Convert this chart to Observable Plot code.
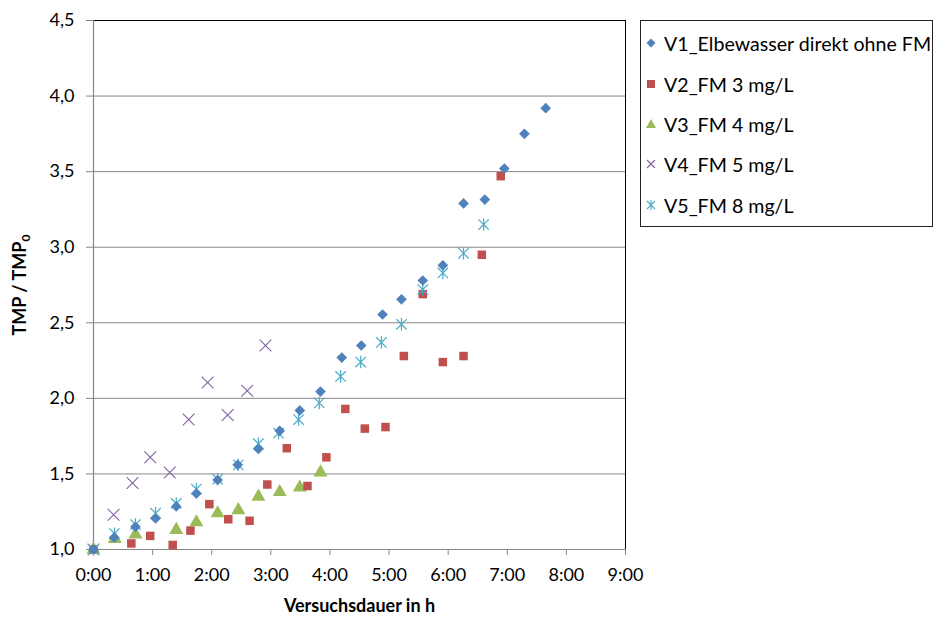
<!DOCTYPE html>
<html>
<head>
<meta charset="utf-8">
<script src="https://cdn.jsdelivr.net/npm/d3@7"></script>
<script src="https://cdn.jsdelivr.net/npm/@observablehq/plot@0.6"></script>
<style>
  body { margin: 0; background: #fff; font-family: Lato, "Open Sans", sans-serif; }
  #wrap { position: relative; width: 935px; height: 617px; }
  #legend { position: absolute; left: 640px; top: 20px; width: 293px; height: 207px; border: 1px solid #222; box-sizing: border-box; background: #fff; }
  .item { position: absolute; left: 0; height: 20px; display: flex; align-items: center; font-size: 19.6px; color: #000; white-space: nowrap; }
  .item svg { margin-left: 4px; margin-right: 7px; }
</style>
</head>
<body>
<div id="wrap"><div id="chart"></div><div id="legend"></div></div>
<script>
// ---- data (time in hours, TMP/TMP0) ----
const seriesNames = ["V1_Elbewasser direkt ohne FM", "V2_FM 3 mg/L", "V3_FM 4 mg/L", "V4_FM 5 mg/L", "V5_FM 8 mg/L"];
const seriesColors = ["#4F81BD", "#C0504D", "#9BBB59", "#8064A2", "#4BACC6"];

const v1_t = [0, 0.35, 0.71, 1.05, 1.40, 1.74, 2.10, 2.44, 2.79, 3.15, 3.49, 3.84, 4.20, 4.53, 4.89, 5.21, 5.57, 5.91, 6.26, 6.62, 6.95, 7.29, 7.65];
const v1_y = [1.0, 1.08, 1.15, 1.205, 1.285, 1.37, 1.46, 1.56, 1.665, 1.785, 1.92, 2.045, 2.27, 2.35, 2.555, 2.655, 2.78, 2.88, 3.29, 3.315, 3.52, 3.75, 3.92];

const v2_t = [0, 0.64, 0.96, 1.34, 1.64, 1.96, 2.28, 2.64, 2.94, 3.27, 3.62, 3.94, 4.26, 4.59, 4.94, 5.25, 5.57, 5.91, 6.26, 6.57, 6.89];
const v2_y = [1.0, 1.04, 1.09, 1.03, 1.125, 1.30, 1.20, 1.19, 1.43, 1.67, 1.42, 1.61, 1.93, 1.80, 1.81, 2.28, 2.69, 2.24, 2.28, 2.95, 3.47];

const v3_t = [0, 0.36, 0.71, 1.40, 1.74, 2.10, 2.45, 2.79, 3.15, 3.49, 3.84];
const v3_y = [1.0, 1.07, 1.10, 1.13, 1.18, 1.24, 1.26, 1.35, 1.38, 1.41, 1.51];

const v4_t = [0, 0.34, 0.66, 0.96, 1.29, 1.61, 1.93, 2.27, 2.60, 2.91];
const v4_y = [1.0, 1.23, 1.44, 1.61, 1.51, 1.86, 2.105, 1.89, 2.05, 2.35];

const v5_t = [0, 0.355, 0.71, 1.05, 1.40, 1.74, 2.10, 2.45, 2.79, 3.13, 3.47, 3.82, 4.18, 4.52, 4.87, 5.21, 5.57, 5.91, 6.26, 6.60];
const v5_y = [1.0, 1.105, 1.165, 1.24, 1.305, 1.40, 1.465, 1.56, 1.70, 1.77, 1.86, 1.97, 2.145, 2.24, 2.37, 2.49, 2.72, 2.83, 2.96, 3.15];

const xTicks = [0, 1, 2, 3, 4, 5, 6, 7, 8, 9];
const xTickLabels = ["0:00", "1:00", "2:00", "3:00", "4:00", "5:00", "6:00", "7:00", "8:00", "9:00"];
const yTicks = [1.0, 1.5, 2.0, 2.5, 3.0, 3.5, 4.0, 4.5];
const yTickLabels = ["1,0", "1,5", "2,0", "2,5", "3,0", "3,5", "4,0", "4,5"];

// ---- build table ----
const toRows = (t, y, s) => t.map((ti, i) => ({t: ti, v: y[i], s}));
const d1 = toRows(v1_t, v1_y, seriesNames[0]);
const d2 = toRows(v2_t, v2_y, seriesNames[1]);
const d3_ = toRows(v3_t, v3_y, seriesNames[2]);
const d4 = toRows(v4_t, v4_y, seriesNames[3]);
const d5 = toRows(v5_t, v5_y, seriesNames[4]);

// Excel-like star marker: X with vertical bar
const starSymbol = {
  draw(ctx, size) {
    const r = Math.sqrt(size / Math.PI);
    ctx.moveTo(-r, -r); ctx.lineTo(r, r);
    ctx.moveTo(-r, r); ctx.lineTo(r, -r);
    ctx.moveTo(0, -r * 1.2); ctx.lineTo(0, r * 1.2);
  }
};

const fontFam = "Lato, 'Open Sans', sans-serif";
const xFmt = (d) => xTickLabels[xTicks.indexOf(d)];
const yFmt = (d) => yTickLabels[yTicks.indexOf(d)];

const chart = Plot.plot({
  width: 935,
  height: 617,
  marginLeft: 93,
  marginRight: 310,
  marginTop: 20,
  marginBottom: 68,
  style: {fontFamily: fontFam, fontSize: "18px", color: "#000", background: "#fff"},
  x: {domain: [0, 9]},
  y: {domain: [1, 4.5]},
  marks: [
    Plot.gridY(yTicks, {stroke: "#868686", strokeOpacity: 1, strokeWidth: 1}),
    Plot.frame({stroke: "#000", strokeWidth: 1}),
    Plot.ruleX([0], {stroke: "#868686", strokeWidth: 1.2}),
    Plot.ruleY([1], {stroke: "#868686", strokeWidth: 1.2}),
    Plot.axisX({ticks: xTicks, tickFormat: xFmt, tickSize: 6, tickPadding: 13, stroke: "#868686",
      label: "Versuchsdauer in h", labelAnchor: "center", labelArrow: "none", labelOffset: 62, fontSize: 18}),
    Plot.axisY({ticks: yTicks, tickFormat: yFmt, tickSize: 7, tickPadding: 12, stroke: "#868686",
      label: "TMP / TMP0", labelAnchor: "center", labelArrow: "none", labelOffset: 80, fontSize: 18}),
    Plot.dot(d4, {x: "t", y: "v", symbol: "times", r: 5.4, stroke: seriesColors[3], strokeWidth: 1.1, fill: "none"}),
    Plot.dot(d3_, {x: "t", y: "v", symbol: "triangle", r: 5.2, fill: seriesColors[2], stroke: "none"}),
    Plot.dot(d2, {x: "t", y: "v", symbol: "square", r: 4.8, fill: seriesColors[1], stroke: "none"}),
    Plot.dot(d5, {x: "t", y: "v", symbol: starSymbol, r: 5.2, stroke: seriesColors[4], strokeWidth: 1.2, fill: "none"}),
    Plot.dot(d1, {x: "t", y: "v", symbol: "diamond2", r: 4.8, fill: seriesColors[0], stroke: "none"})
  ]
});
document.getElementById("chart").appendChild(chart);

// bold axis titles
d3.select(chart).selectAll("[aria-label='x-axis label'] text, [aria-label='y-axis label'] text")
  .attr("font-weight", "bold").attr("font-size", 18);
// subscript 0 in the y title
d3.select(chart).selectAll("[aria-label='y-axis label'] text").each(function () {
  const t = d3.select(this);
  t.text("TMP / TMP");
  t.append("tspan").attr("font-size", 12).attr("dy", "0.3em").text("0");
});

// ---- legend (HTML) ----
const legend = document.getElementById("legend");
const rowsY = [12, 53, 93, 133, 174];
const symbolsSvg = [
  `<svg width="12" height="12" viewBox="-6 -6 12 12"><path d="M0,-4.5L4.5,0L0,4.5L-4.5,0Z" fill="${seriesColors[0]}"/></svg>`,
  `<svg width="12" height="12" viewBox="-6 -6 12 12"><rect x="-4" y="-4" width="8" height="8" fill="${seriesColors[1]}"/></svg>`,
  `<svg width="12" height="12" viewBox="-6 -6 12 12"><path d="M0,-5L5,4L-5,4Z" fill="${seriesColors[2]}"/></svg>`,
  `<svg width="12" height="12" viewBox="-6 -6 12 12"><path d="M-4,-4L4,4M-4,4L4,-4" stroke="${seriesColors[3]}" stroke-width="1.1"/></svg>`,
  `<svg width="12" height="12" viewBox="-6 -6 12 12"><path d="M-4,-4L4,4M-4,4L4,-4M0,-5L0,5" stroke="${seriesColors[4]}" stroke-width="1.1"/></svg>`
];
seriesNames.forEach((name, i) => {
  const div = document.createElement("div");
  div.className = "item";
  div.style.top = rowsY[i] + "px";
  div.innerHTML = symbolsSvg[i] + `<span>${name}</span>`;
  legend.appendChild(div);
});
</script>
</body>
</html>
